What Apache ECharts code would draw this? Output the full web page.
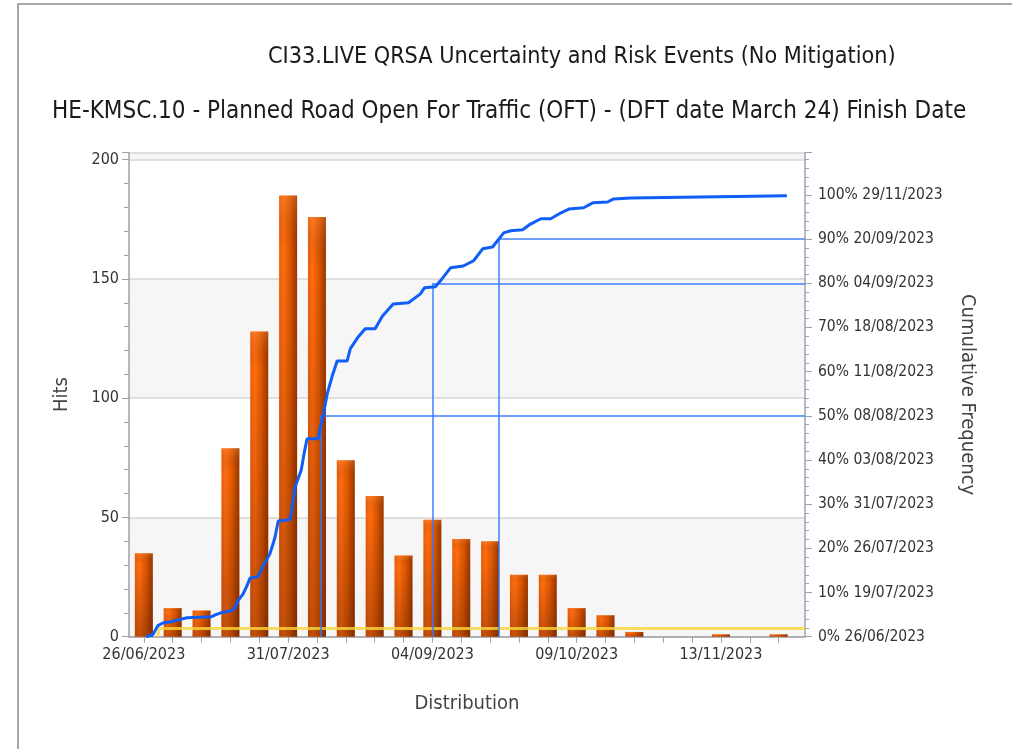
<!DOCTYPE html>
<html>
<head>
<meta charset="utf-8">
<script src="https://cdn.jsdelivr.net/npm/echarts@6/dist/echarts.min.js"></script>
<style>
  html, body { margin: 0; padding: 0; background: #fff; }
  #chart { width: 1012px; height: 749px; }
</style>
</head>
<body>
<div id="chart"></div>
<script>
// day offsets from 26/06/2023 (weekly bins)
const binDays = [0, 7, 14, 21, 28, 35, 42, 49, 56, 63, 70, 77, 84, 91, 98, 105, 112, 119, 126, 133, 140, 147, 154];
const hits = [35, 12, 11, 79, 128, 185, 176, 74, 59, 34, 49, 41, 40, 26, 26, 12, 9, 2, 0, 0, 1, 0, 1];

// cumulative curve, [day, percent]
const cumulative = [
  [0.5, 0], [2.2, 0.5], [3.4, 2.5], [4.6, 3.1], [6.6, 3.4], [8.3, 3.8], [10.5, 4.3], [16.3, 4.5],
  [17.5, 5.0], [18.7, 5.4], [21.4, 5.9], [22.1, 6.6], [22.8, 8.1], [24.1, 9.7], [25.0, 11.5],
  [25.8, 13.3], [27.7, 13.6], [28.7, 15.6], [30.6, 18.8], [31.8, 22.4], [32.6, 26.2], [35.5, 26.5],
  [36.0, 29.6], [36.7, 33.9], [38.2, 37.8], [38.9, 41.6], [39.6, 44.8], [42.3, 44.8], [42.8, 47.3],
  [43.5, 50.2], [44.5, 55.0], [45.7, 59.0], [46.9, 62.4], [49.3, 62.4], [50.1, 65.2], [51.8, 67.6],
  [53.7, 69.7], [56.1, 69.7], [57.9, 72.6], [60.5, 75.3], [64.2, 75.6], [67.1, 77.6], [68.1, 79.0],
  [70.7, 79.2], [71.9, 80.5], [74.4, 83.5], [77.5, 83.9], [80.0, 85.1], [82.2, 87.8], [84.6, 88.2],
  [87.3, 91.4], [89.0, 91.9], [91.9, 92.1], [93.8, 93.4], [96.3, 94.6], [98.7, 94.6], [101.1, 95.9],
  [103.1, 96.8], [106.7, 97.1], [108.9, 98.2], [112.5, 98.4], [114.0, 99.1], [118.1, 99.3],
  [139.3, 99.6], [156.0, 99.8]
];

// percentile markers
const pctDays = [43, 70, 86];
const pctValues = [50, 80, 90];

// deterministic (yellow) marker, in hits
const detLine = [[3.3, 0], [3.8, 3.4], [160.4, 3.4]];

const xTickDays = [0, 35, 70, 105, 140];
const xTickLabels = ['26/06/2023', '31/07/2023', '04/09/2023', '09/10/2023', '13/11/2023'];
const rightTickLabels = ['0% 26/06/2023', '10% 19/07/2023', '20% 26/07/2023', '30% 31/07/2023',
  '40% 03/08/2023', '50% 08/08/2023', '60% 11/08/2023', '70% 18/08/2023', '80% 04/09/2023',
  '90% 20/09/2023', '100% 29/11/2023'];

const X_MIN = -3.6, X_MAX = 160.4;
const FONT = '"Liberation Sans Narrow", "DejaVu Sans Condensed", "Liberation Sans", sans-serif';

const minorDays = [];
for (let d = 0; d <= 154; d += 7) minorDays.push(d);

const chart = echarts.init(document.getElementById('chart'));

const barData = binDays.map((d, i) => [d, hits[i]]);
const pctLines = [];
pctDays.forEach((d, i) => {
  pctLines.push([{ coord: [d, pctValues[i]] }, { coord: [X_MAX, pctValues[i]] }]);
  pctLines.push([{ coord: [d, pctValues[i]] }, { coord: [d, 0] }]);
});

const option = {
  animation: false,
  backgroundColor: '#fff',
  textStyle: { fontFamily: FONT },
  title: [
    {
      text: 'CI33.LIVE QRSA Uncertainty and Risk Events (No Mitigation)',
      left: 268, top: 45, padding: 0,
      textStyle: { fontFamily: FONT, fontSize: 23.2, fontWeight: 'normal', color: '#1a1a1a' }
    },
    {
      text: 'HE-KMSC.10 - Planned Road Open For Traffic (OFT) - (DFT date March 24) Finish Date',
      left: 52, top: 100, padding: 0,
      textStyle: { fontFamily: FONT, fontSize: 24, fontWeight: 'normal', color: '#1a1a1a' }
    }
  ],
  graphic: [{
    type: 'polyline',
    shape: { points: [[18, 749], [18, 4], [1012, 4]] },
    style: { stroke: '#a8a8a8', lineWidth: 2, fill: null },
    silent: true
  }],
  grid: { left: 129, right: 207, top: 152.5, bottom: 112.3 },
  xAxis: {
    type: 'value',
    min: X_MIN,
    max: X_MAX,
    name: 'Distribution',
    nameLocation: 'middle',
    nameGap: 57,
    nameTextStyle: { fontFamily: FONT, fontSize: 20, color: '#444' },
    axisLine: { show: true, onZero: false, lineStyle: { color: '#a0a0a8', width: 1.5 } },
    axisTick: { show: true, length: 6, customValues: minorDays, lineStyle: { color: '#a0a0a8' } },
    axisLabel: {
      customValues: xTickDays,
      fontFamily: FONT, fontSize: 16, color: '#333', margin: 10,
      formatter: v => xTickLabels[xTickDays.indexOf(Math.round(v))] || ''
    },
    splitLine: { show: false }
  },
  yAxis: [
    {
      type: 'value',
      min: 0, max: 203, interval: 50,
      name: 'Hits',
      nameLocation: 'middle',
      nameGap: 57,
      nameRotate: 90,
      nameTextStyle: { fontFamily: FONT, fontSize: 20, color: '#444' },
      axisLine: { show: true, onZero: false, lineStyle: { color: '#a0a0a8', width: 1.5 } },
      axisTick: { show: true, length: 7, lineStyle: { color: '#a0a0a8' } },
      minorTick: { show: true, splitNumber: 5, length: 5, lineStyle: { color: '#a0a0a8' } },
      axisLabel: { fontFamily: FONT, fontSize: 16, color: '#333', margin: 10, showMaxLabel: false },
      splitLine: { show: true, lineStyle: { color: '#d6d6d6', width: 1.5 } },
      splitArea: { show: true, areaStyle: { color: ['#f6f6f6', '#ffffff'] } }
    },
    {
      type: 'value',
      min: 0, max: 109.6, interval: 10,
      name: 'Cumulative Frequency',
      nameLocation: 'middle',
      nameGap: 152,
      nameRotate: -90,
      nameTextStyle: { fontFamily: FONT, fontSize: 20, color: '#444' },
      axisLine: { show: true, onZero: false, lineStyle: { color: '#a0a0b8', width: 1.5 } },
      axisTick: { show: true, length: 7, lineStyle: { color: '#a0a0a8' } },
      minorTick: { show: true, splitNumber: 5, length: 4, lineStyle: { color: '#a0a0a8' } },
      axisLabel: {
        fontFamily: FONT, fontSize: 15.5, color: '#333', margin: 13,
        formatter: v => {
          const i = Math.round(v / 10);
          return (Math.abs(v - i * 10) < 0.01 && rightTickLabels[i]) ? rightTickLabels[i] : '';
        }
      },
      splitLine: { show: false }
    }
  ],
  series: [
    {
      name: 'Hits',
      type: 'bar',
      yAxisIndex: 0,
      barWidth: 18,
      data: barData,
      itemStyle: {
        color: {
          type: 'linear', x: 0, y: 0, x2: 1, y2: 0,
          colorStops: [
            { offset: 0, color: '#ec5e08' },
            { offset: 0.25, color: '#ff6e12' },
            { offset: 0.6, color: '#de5800' },
            { offset: 1, color: '#983600' }
          ]
        }
      },
      z: 2
    },
    {
      name: 'shade',
      type: 'bar',
      yAxisIndex: 0,
      barWidth: 18,
      barGap: '-100%',
      data: barData,
      silent: true,
      itemStyle: {
        color: {
          type: 'linear', x: 0, y: 0, x2: 0, y2: 1,
          colorStops: [
            { offset: 0, color: 'rgba(255,150,70,0.3)' },
            { offset: 0.12, color: 'rgba(80,20,0,0)' },
            { offset: 1, color: 'rgba(70,20,0,0.33)' }
          ]
        }
      },
      z: 3
    },
    {
      name: 'Deterministic',
      type: 'line',
      yAxisIndex: 0,
      data: detLine,
      symbol: 'none',
      lineStyle: { color: 'rgba(250,215,60,0.8)', width: 3 },
      z: 4
    },
    {
      name: 'Cumulative',
      type: 'line',
      yAxisIndex: 1,
      data: cumulative,
      symbol: 'none',
      lineStyle: { color: '#0e5ef7', width: 3 },
      markLine: {
        silent: true,
        symbol: 'none',
        label: { show: false },
        lineStyle: { color: 'rgba(50,120,255,0.7)', width: 2, type: 'solid' },
        data: pctLines
      },
      z: 6
    }
  ]
};

chart.setOption(option);
</script>
</body>
</html>
